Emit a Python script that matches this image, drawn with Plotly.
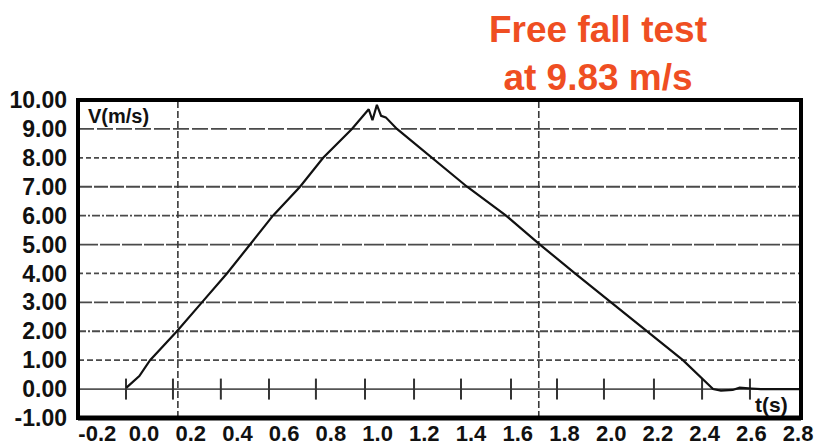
import plotly.graph_objects as go

# Velocity trace of the free-fall run (time in s, velocity in m/s)
t_s = [-0.075, -0.02, 0.026, 0.141, 0.248, 0.355, 0.454, 0.552, 0.668, 0.767,
       0.890, 0.945, 0.962, 0.978, 0.997, 1.015, 1.035, 1.083, 1.233, 1.383,
       1.550, 1.695, 1.845, 2.000, 2.150, 2.307, 2.436, 2.470, 2.520, 2.550,
       2.600, 2.640, 2.810]
v_ms = [0.05, 0.45, 1.00, 2.00, 3.00, 4.00, 5.00, 6.00, 7.00, 8.00,
        9.00, 9.55, 9.68, 9.30, 9.83, 9.45, 9.40, 9.00, 8.00, 7.00,
        6.00, 5.00, 4.00, 3.00, 2.00, 1.00, 0.00, -0.05, -0.03, 0.05,
        0.02, 0.00, 0.00]

# Vertical marker lines and the short ticks along the zero line
marker_t = [0.145, 1.69]
zero_ticks_t = [-0.077, 0.124, 0.329, 0.535, 0.736, 0.946, 1.156, 1.357,
                1.571, 1.768, 1.969, 2.183, 2.389, 2.594]

# Axis tick values and labels
x_ticks = [-0.2, 0.0, 0.2, 0.4, 0.6, 0.8, 1.0, 1.2, 1.4, 1.6, 1.8, 2.0, 2.2, 2.4, 2.6, 2.8]
x_tick_labels = ["-0.2", "0.0", "0.2", "0.4", "0.6", "0.8", "1.0", "1.2",
                 "1.4", "1.6", "1.8", "2.0", "2.2", "2.4", "2.6", "2.8"]
y_ticks = [-1, 0, 1, 2, 3, 4, 5, 6, 7, 8, 9, 10]
y_tick_labels = ["-1.00", "0.00", "1.00", "2.00", "3.00", "4.00", "5.00",
                 "6.00", "7.00", "8.00", "9.00", "10.00"]
grid_v = [1, 2, 3, 4, 5, 6, 7, 8, 9]

title_lines = ["Free fall test", "at 9.83 m/s"]

FONT = "Liberation Sans, Arial, sans-serif"
X_RANGE = [-0.2825, 2.8125]
Y_RANGE = [-1.0, 10.0]

fig = go.Figure()

# zero line
fig.add_trace(go.Scatter(
    x=X_RANGE, y=[0, 0], mode="lines",
    line=dict(color="#555555", width=1.8), hoverinfo="skip", showlegend=False))

# ticks on the zero line
fig.add_trace(go.Scatter(
    x=zero_ticks_t, y=[0] * len(zero_ticks_t), mode="markers",
    marker=dict(symbol="line-ns-open", size=15, color="#333333",
                line=dict(color="#333333", width=2)),
    hoverinfo="skip", showlegend=False))

# velocity curve
fig.add_trace(go.Scatter(
    x=t_s, y=v_ms, mode="lines",
    line=dict(color="#111111", width=2.2), showlegend=False))

shapes = []
# horizontal grid lines, alternating textures
dashes = ["6px,3px", "8px,2px,2px,2px", "14px,2px", "5px,3px", "20px,2px",
          "8px,2px,2px,2px", "14px,2px", "5px,3px", "16px,3px"]
for v, d in zip(grid_v, dashes):
    shapes.append(dict(type="line", xref="paper", x0=0, x1=1, yref="y", y0=v, y1=v,
                       line=dict(color="#4a4a4a", width=1.8, dash=d), layer="below"))
# vertical marker lines
for t in marker_t:
    shapes.append(dict(type="line", xref="x", x0=t, x1=t, yref="paper", y0=0, y1=1,
                       line=dict(color="#3a3a3a", width=1.6, dash="7px,3px"), layer="below"))
# heavy frame
shapes.append(dict(type="rect", xref="paper", yref="paper", x0=0, x1=1, y0=0, y1=1,
                   line=dict(color="black", width=4)))
shapes.append(dict(type="line", xref="paper", yref="paper", x0=0, x1=1, y0=0, y1=0,
                   line=dict(color="black", width=5)))

annotations = [
    dict(text="<br>".join(title_lines), xref="paper", yref="paper", x=0.719, y=1.146,
         xanchor="center", yanchor="middle", showarrow=False, align="center",
         font=dict(family=FONT, size=37, color="#EF4E22", weight="bold")),
    dict(text="V(m/s)", xref="paper", yref="paper", x=0.011, y=0.95,
         xanchor="left", yanchor="middle", showarrow=False,
         font=dict(family=FONT, size=20, color="#111111", weight="bold")),
    dict(text="t(s)", xref="paper", yref="paper", x=0.985, y=0.044,
         xanchor="right", yanchor="middle", showarrow=False,
         font=dict(family=FONT, size=21, color="#111111", weight="bold")),
]

fig.update_layout(
    width=815, height=447,
    margin=dict(l=78, r=14, t=100, b=29, autoexpand=False),
    paper_bgcolor="white", plot_bgcolor="white",
    shapes=shapes, annotations=annotations,
    xaxis=dict(range=X_RANGE, tickvals=x_ticks, ticktext=x_tick_labels,
               showgrid=False, zeroline=False, showline=False, ticks="",
               automargin=False, ticklabelstandoff=0,
               tickfont=dict(family=FONT, size=22, color="#111111", weight="bold")),
    yaxis=dict(range=Y_RANGE, tickvals=y_ticks, ticktext=y_tick_labels,
               showgrid=False, zeroline=False, showline=False, ticks="",
               automargin=False, ticklabelstandoff=10,
               tickfont=dict(family=FONT, size=23, color="#111111", weight="bold")),
)

fig.write_html("out.html")
